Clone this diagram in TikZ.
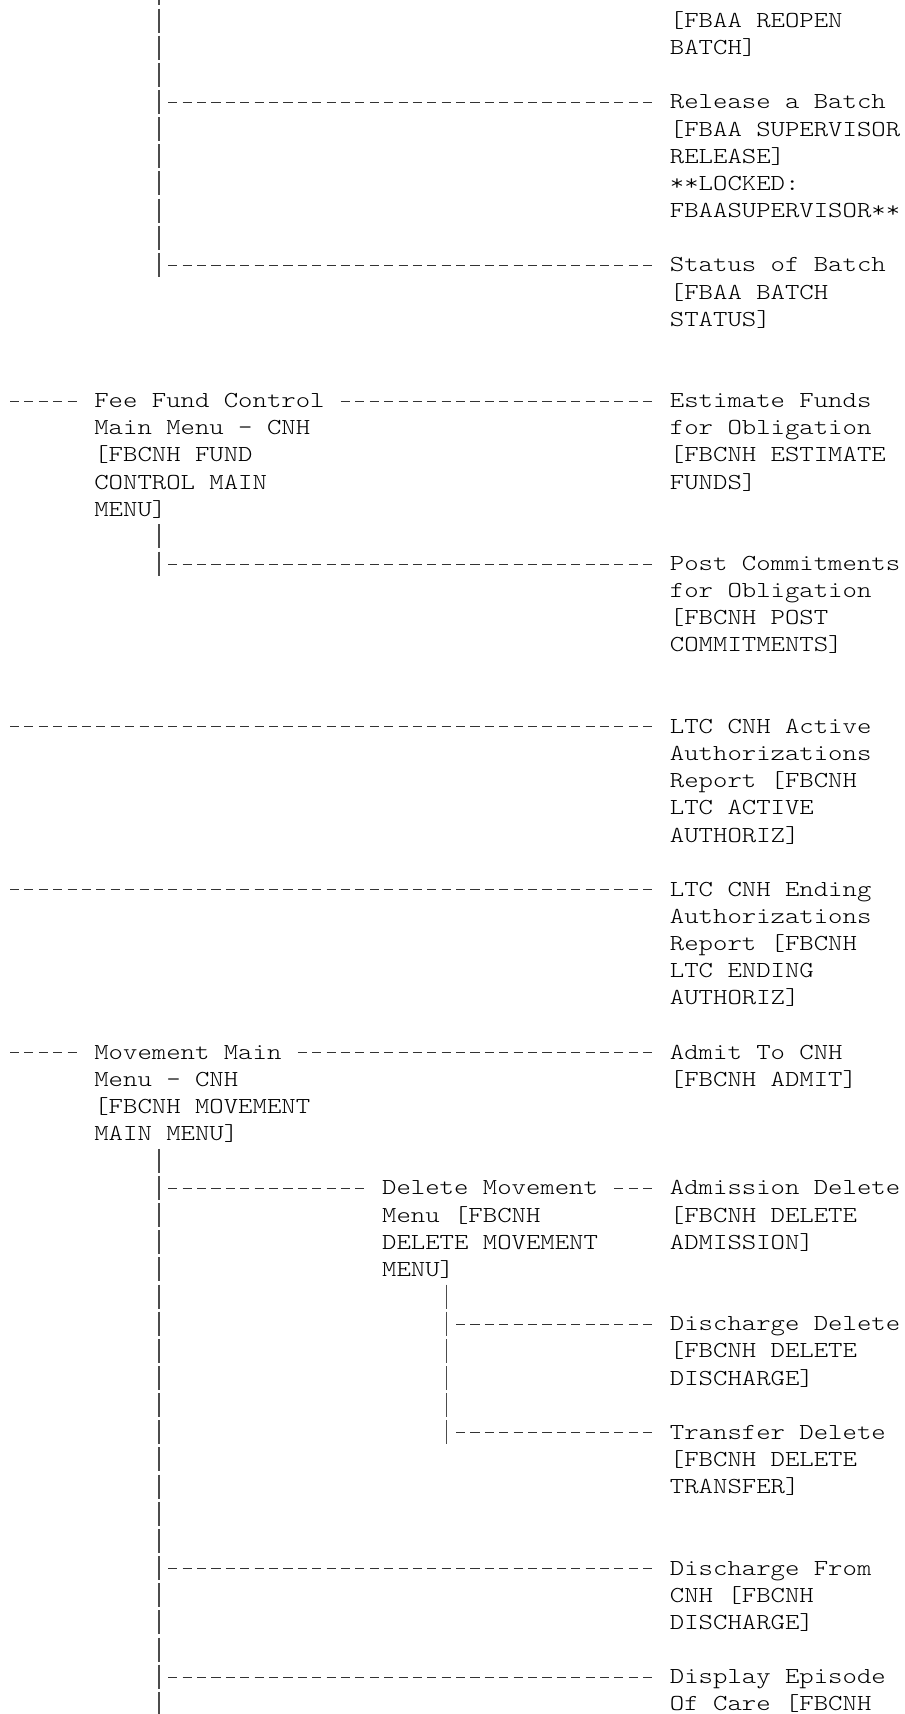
\documentclass[tikz,border=0pt]{standalone}
\usepackage{fontspec}
\newfontfamily\menufont[FakeStretch=1.2]{Latin Modern Mono Light}
\usetikzlibrary{calc}
\pgfmathdeclarefunction{cx}{1}{\pgfmathparse{8+14.39*#1}}
\pgfmathdeclarefunction{ry}{1}{\pgfmathparse{27.5+27.15*#1}}
\tikzset{
  t/.style={anchor=base west, inner sep=0pt, outer sep=0pt, text=black,
            font=\menufont\fontsize{22.84}{27}\selectfont},
  dl/.style={draw=black!80, line width=1.0pt, dash pattern=on 9.1pt off 5.29pt},
  vl/.style={draw=black!70, line width=1.2pt, dash pattern=on 24pt off 3.15pt}
}
\newcommand\mline[4]{\node[t] (#1) at ({cx(#2)},{ry(#3)}) {#4};}
\begin{document}
\begin{tikzpicture}[x=1pt,y=-1pt]
\path[use as bounding box, fill=white] (0,0) rectangle (905,1714);
% right column
\mline{reopenA}{46}{0}{[FBAA REOPEN}
\mline{reopenB}{46}{1}{BATCH]}
\mline{relA}{46}{3}{Release a Batch}
\mline{relB}{46}{4}{[FBAA SUPERVISOR}
\mline{relC}{46}{5}{RELEASE]}
\mline{relD}{46}{6}{**LOCKED:}
\mline{relE}{46}{7}{FBAASUPERVISOR**}
\mline{statA}{46}{9}{Status of Batch}
\mline{statB}{46}{10}{[FBAA BATCH}
\mline{statC}{46}{11}{STATUS]}
\mline{estA}{46}{14}{Estimate Funds}
\mline{estB}{46}{15}{for Obligation}
\mline{estC}{46}{16}{[FBCNH ESTIMATE}
\mline{estD}{46}{17}{FUNDS]}
\mline{postA}{46}{20}{Post Commitments}
\mline{postB}{46}{21}{for Obligation}
\mline{postC}{46}{22}{[FBCNH POST}
\mline{postD}{46}{23}{COMMITMENTS]}
\mline{actA}{46}{26}{LTC CNH Active}
\mline{actB}{46}{27}{Authorizations}
\mline{actC}{46}{28}{Report [FBCNH}
\mline{actD}{46}{29}{LTC ACTIVE}
\mline{actE}{46}{30}{AUTHORIZ]}
\mline{endA}{46}{32}{LTC CNH Ending}
\mline{endB}{46}{33}{Authorizations}
\mline{endC}{46}{34}{Report [FBCNH}
\mline{endD}{46}{35}{LTC ENDING}
\mline{endE}{46}{36}{AUTHORIZ]}
\mline{admA}{46}{38}{Admit To CNH}
\mline{admB}{46}{39}{[FBCNH ADMIT]}
\mline{admdA}{46}{43}{Admission Delete}
\mline{admdB}{46}{44}{[FBCNH DELETE}
\mline{admdC}{46}{45}{ADMISSION]}
\mline{dischdA}{46}{48}{Discharge Delete}
\mline{dischdB}{46}{49}{[FBCNH DELETE}
\mline{dischdC}{46}{50}{DISCHARGE]}
\mline{transA}{46}{52}{Transfer Delete}
\mline{transB}{46}{53}{[FBCNH DELETE}
\mline{transC}{46}{54}{TRANSFER]}
\mline{dfromA}{46}{57}{Discharge From}
\mline{dfromB}{46}{58}{CNH [FBCNH}
\mline{dfromC}{46}{59}{DISCHARGE]}
\mline{epiA}{46}{61}{Display Episode}
\mline{epiB}{46}{62}{Of Care [FBCNH}
% left column
\mline{feeA}{6}{14}{Fee Fund Control}
\mline{feeB}{6}{15}{Main Menu - CNH}
\mline{feeC}{6}{16}{[FBCNH FUND}
\mline{feeD}{6}{17}{CONTROL MAIN}
\mline{feeE}{6}{18}{MENU]}
\mline{movA}{6}{38}{Movement Main}
\mline{movB}{6}{39}{Menu - CNH}
\mline{movC}{6}{40}{[FBCNH MOVEMENT}
\mline{movD}{6}{41}{MAIN MENU]}
% middle column
\mline{delA}{26}{43}{Delete Movement}
\mline{delB}{26}{44}{Menu [FBCNH}
\mline{delC}{26}{45}{DELETE MOVEMENT}
\mline{delD}{26}{46}{MENU]}
% vertical trunks
\coordinate (v1a) at ({cx(10.5)},{ry(-1)-19});
\coordinate (v1b) at ({cx(10.5)},{ry(9)+5});
\coordinate (v2a) at ({cx(10.5)},{ry(19)-19});
\coordinate (v2b) at ({cx(10.5)},{ry(20)+5});
\coordinate (v3a) at ({cx(10.5)},{ry(42)-19});
\coordinate (v3b) at ({cx(10.5)},{ry(63)+5});
\coordinate (v4a) at ({cx(30.5)},{ry(47)-19});
\coordinate (v4b) at ({cx(30.5)},{ry(52)+5});
\draw[vl] (v1a) -- (v1b);
\draw[vl] (v2a) -- (v2b);
\draw[vl] (v3a) -- (v3b);
\draw[vl] (v4a) -- (v4b);
% left starts of top-level dashes
\coordinate (e14) at (10,{ry(14)-6.5});
\coordinate (e26) at (10,{ry(26)-6.5});
\coordinate (e32) at (10,{ry(32)-6.5});
\coordinate (e38) at (10,{ry(38)-6.5});
% horizontal connectors
\draw[dl] ($(v1a |- relA.base)+(9.2,-6.5)$) -- ($(relA.base west)+(-17.6,-6.5)$);
\draw[dl] ($(v1a |- statA.base)+(9.2,-6.5)$) -- ($(statA.base west)+(-17.6,-6.5)$);
\draw[dl] (e14) -- ($(feeA.base west)+(-17.6,-6.5)$);
\draw[dl] ($(feeA.base west)+(246.63,-6.5)$) -- ($(estA.base west)+(-17.6,-6.5)$);
\draw[dl] ($(v2a |- postA.base)+(9.2,-6.5)$) -- ($(postA.base west)+(-17.6,-6.5)$);
\draw[dl] (e26) -- ($(actA.base west)+(-17.6,-6.5)$);
\draw[dl] (e32) -- ($(endA.base west)+(-17.6,-6.5)$);
\draw[dl] (e38) -- ($(movA.base west)+(-17.6,-6.5)$);
\draw[dl] ($(movA.base west)+(203.46,-6.5)$) -- ($(admA.base west)+(-17.6,-6.5)$);
\draw[dl] ($(v3a |- delA.base)+(9.2,-6.5)$) -- ($(delA.base west)+(-17.6,-6.5)$);
\draw[dl] ($(delA.base west)+(232.24,-6.5)$) -- ($(admdA.base west)+(-17.6,-6.5)$);
\draw[dl] ($(v4a |- dischdA.base)+(9.2,-6.5)$) -- ($(dischdA.base west)+(-17.6,-6.5)$);
\draw[dl] ($(v4a |- transA.base)+(9.2,-6.5)$) -- ($(transA.base west)+(-17.6,-6.5)$);
\draw[dl] ($(v3a |- dfromA.base)+(9.2,-6.5)$) -- ($(dfromA.base west)+(-17.6,-6.5)$);
\draw[dl] ($(v3a |- epiA.base)+(9.2,-6.5)$) -- ($(epiA.base west)+(-17.6,-6.5)$);
\end{tikzpicture}
\end{document}
